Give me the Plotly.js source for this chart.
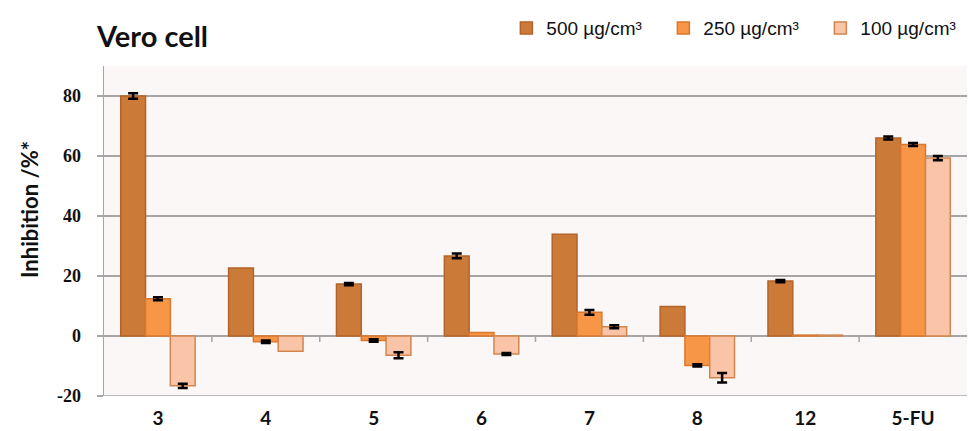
<!DOCTYPE html>
<html>
<head>
<meta charset="utf-8">
<script src="https://cdn.plot.ly/plotly-3.0.1.min.js"></script>
<style>html,body{margin:0;padding:0;background:#fff;}#chart{width:968px;height:431px;}</style>
</head>
<body>
<div id="chart"></div>
<script>
const categories = ["3", "4", "5", "6", "7", "8", "12", "5-FU"];
const seriesNames = ["500 µg/cm³", "250 µg/cm³", "100 µg/cm³"];
const values500 = [80.0, 22.7, 17.3, 26.7, 33.9, 9.8, 18.3, 66.0];
const values250 = [12.4, -1.9, -1.5, 1.2, 7.9, -9.8, 0.3, 63.8];
const values100 = [-16.6, -5.1, -6.4, -6.0, 3.1, -13.9, 0.3, 59.3];
const err500 = [0.9, null, 0.4, 0.8, null, null, 0.4, 0.5];
const err250 = [0.5, 0.4, 0.4, null, 0.8, 0.4, null, 0.5];
const err100 = [0.7, null, 1.0, 0.3, 0.5, 1.6, null, 0.7];
const yTicks = [-20, 0, 20, 40, 60, 80];

const fills = ["#CC7A38", "#F79646", "#FAC4A8"];
const borders = ["#B4642A", "#D9782E", "#D2864F"];
const vals = [values500, values250, values100];
const errs = [err500, err250, err100];

const traces = vals.map((v, i) => ({
  type: "bar",
  name: seriesNames[i],
  x: categories,
  y: v,
  marker: {color: fills[i], line: {color: borders[i], width: 1.5}},
  error_y: {type: "data", array: errs[i].map(e => e === null ? NaN : e), visible: true, color: "#000", thickness: 2.5, width: 5},
  hoverinfo: "skip"
}));

const tickShapes = categories.slice(1).map((c, i) => ({
  type: "line", xref: "x", yref: "y", ysizemode: "pixel", yanchor: 0,
  x0: i + 0.5, x1: i + 0.5, y0: 0, y1: -6,
  line: {color: "#A6A6A6", width: 1.5}
}));

const layout = {
  width: 968, height: 431,
  margin: {l: 104, r: 1, t: 66, b: 35, autoexpand: false},
  paper_bgcolor: "#FFFFFF",
  plot_bgcolor: "#FAF7F6",
  barmode: "group",
  bargap: 0.31,
  bargroupgap: 0,
  showlegend: true,
  title: {
    text: "<b>Vero cell</b>",
    font: {family: "Lato, Open Sans, sans-serif", size: 29, color: "#111"},
    xref: "container", yref: "container",
    x: 97 / 968, xanchor: "left", y: 1 - 37 / 431, yanchor: "middle"
  },
  legend: {
    orientation: "h",
    x: 1.012, xanchor: "right", xref: "paper",
    y: 1.115, yanchor: "middle",
    font: {family: "Liberation Sans, Arial, sans-serif", size: 19, color: "#111"},
    traceorder: "normal",
    itemwidth: 30,
    entrywidth: 112,
    entrywidthmode: "pixels",
    bgcolor: "rgba(0,0,0,0)"
  },
  xaxis: {
    type: "category",
    categoryarray: categories,
    showgrid: false,
    zeroline: false,
    showline: false,
    ticks: "",
    ticklabelstandoff: 9,
    tickfont: {family: "Lato, Open Sans, sans-serif", size: 19, color: "#111", weight: "bold"}
  },
  yaxis: {
    range: [-20, 90],
    tickvals: yTicks,
    ticktext: yTicks.map(String),
    showgrid: true,
    gridcolor: "#A6A6A6",
    gridwidth: 1.5,
    zeroline: true,
    zerolinecolor: "#A6A6A6",
    zerolinewidth: 1.5,
    showline: true,
    linecolor: "#A6A6A6",
    linewidth: 1.5,
    ticks: "outside",
    ticklen: 6,
    tickcolor: "#A6A6A6",
    tickwidth: 1.5,
    ticklabelstandoff: 12,
    tickfont: {family: "Liberation Serif, DejaVu Serif, serif", size: 18, color: "#111", weight: "bold"}
  },
  shapes: [
    {type: "line", xref: "paper", yref: "y", x0: 0, x1: 1, y0: -20, y1: -20, line: {color: "#A6A6A6", width: 1.5}}
  ].concat(tickShapes),
  annotations: [{
    text: "<b>Inhibition /%*</b>",
    xref: "paper", yref: "paper",
    x: 0, y: (396 - 210) / 330,
    xanchor: "center", yanchor: "middle",
    xshift: -75,
    textangle: -90,
    showarrow: false,
    font: {family: "Lato, Open Sans, sans-serif", size: 22, color: "#111"}
  }]
};

Plotly.newPlot("chart", traces, layout, {displayModeBar: false, staticPlot: true});
</script>
</body>
</html>
